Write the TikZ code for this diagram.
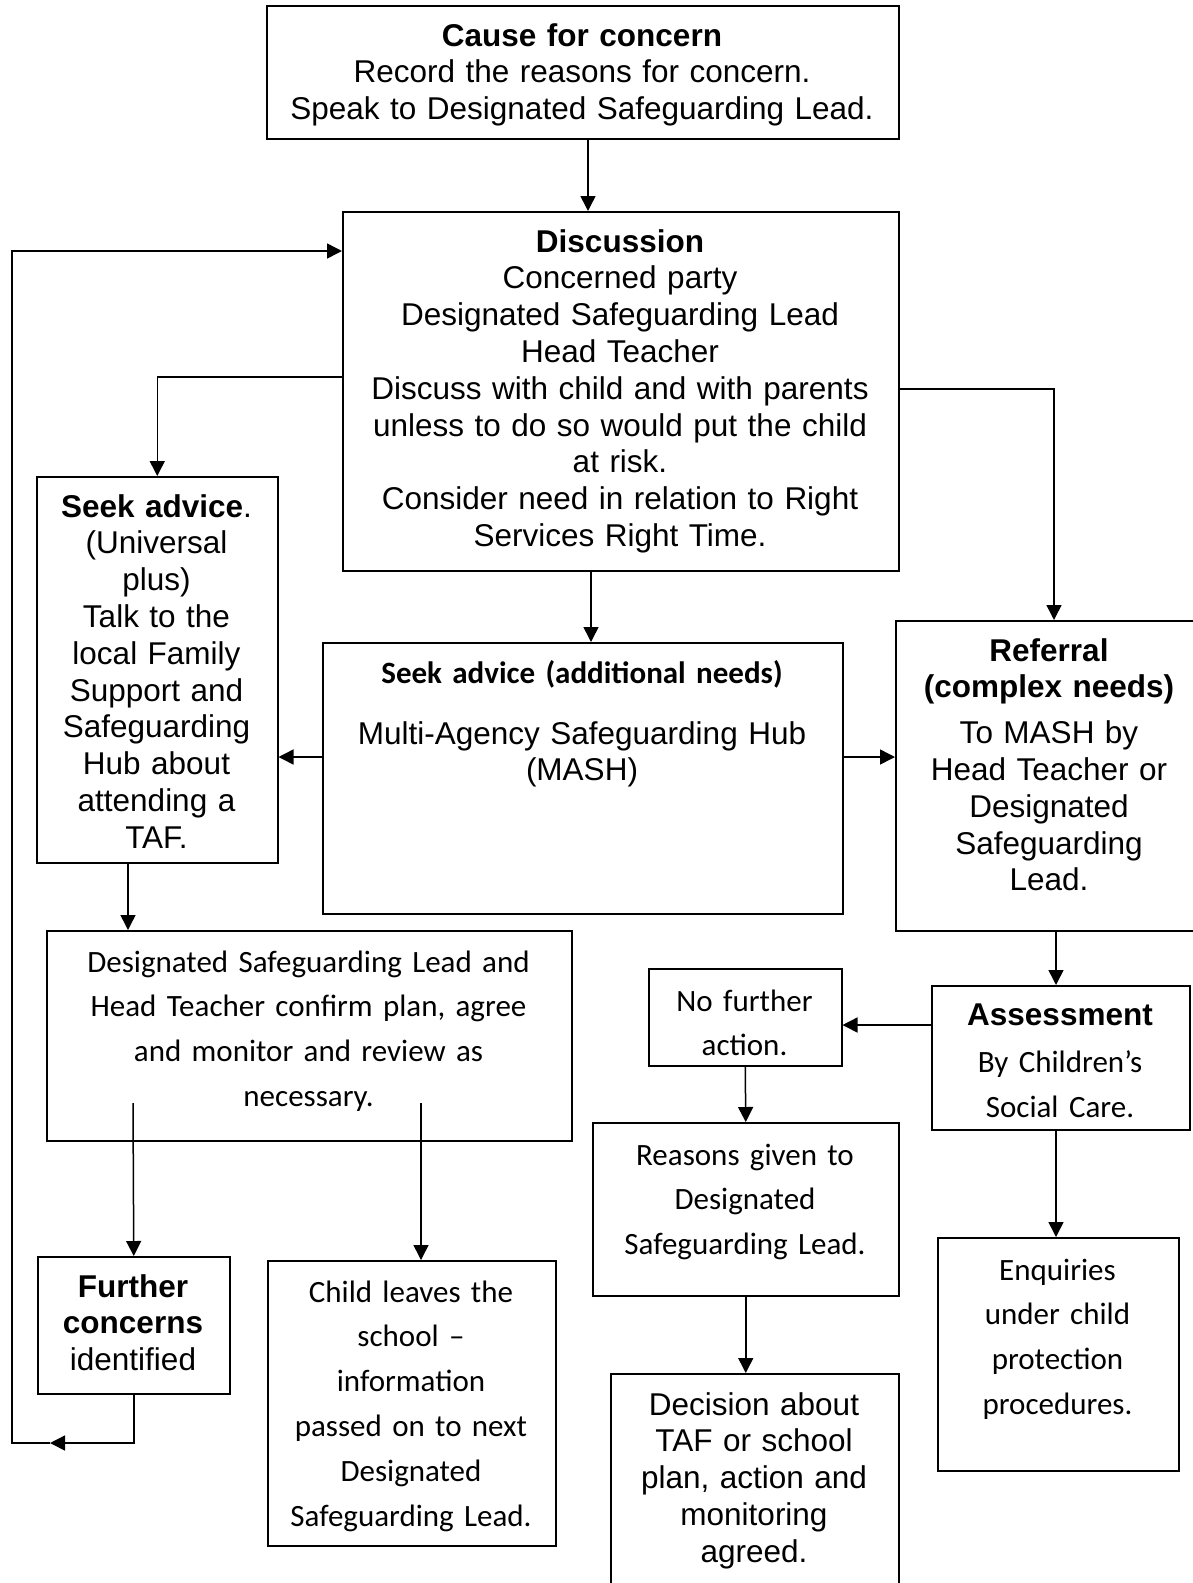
\documentclass[tikz,border=0pt]{standalone}
\usepackage{fontspec}
\setmainfont{Liberation Sans}
\newfontfamily\calib{Carlito}
\usepackage{tikz}
\usetikzlibrary{arrows.meta,positioning,calc}
\newcommand{\calibtext}[1]{{\calib\fontsize{31}{44.8}\selectfont #1}}
\tikzset{
    box/.style={draw, line width=1.5pt, inner sep=0pt, anchor=north west},
    atext/.style={anchor=base, align=center, text width=#1, inner sep=0pt, font=\fontsize{31.5}{36.8}\selectfont},
    ctext/.style={anchor=base, align=center, text width=#1, inner sep=0pt, font=\calib\fontsize{31}{44.8}\selectfont},
    conn/.style={line width=1.5pt},
    arr/.style={conn, -{Triangle[length=15pt,width=15pt]}},
}
\begin{document}
\begin{tikzpicture}[x=1pt, y=-1pt]
    \useasboundingbox (0,0) rectangle (1192,1583);
    % Boxes (top left corner, width, height)
    \foreach \n/\x/\y/\w/\h in {cause/266/5/632/133, disc/342/211/556/359,
        seek/36/476/241/386, mash/322/642/520/271, refer/895/620/308/310,
        dsl/46/930/525/210, nfa/648/968/193/97, ass/931/985/258/144,
        reasons/592/1122/306/173, further/37/1256/192/137, child/267/1260/288/285,
        enq/937/1237/241/233, dec/610/1373/288/220} {
        \node[box, minimum width=\w, minimum height=\h] (\n) at (\x,\y) {};
    }
    % Texts
    \node[atext=620] (causet) at (582,46) {\textbf{Cause for concern}\\Record the reasons for concern.\\Speak to Designated Safeguarding Lead.};
    \node[atext=550] (disct) at (620,252) {\textbf{Discussion}\\Concerned party\\Designated Safeguarding Lead\\Head Teacher\\Discuss with child and with parents\\unless to do so would put the child\\at risk.\\Consider need in relation to Right\\Services Right Time.};
    \node[atext=235] (seekt) at (156.5,517) {\textbf{Seek advice}.\\(Universal\\plus)\\Talk to the\\local Family\\Support and\\Safeguarding\\Hub about\\attending a\\TAF.};
    \node[ctext=510] (masht) at (582,683) {\bfseries Seek advice (additional needs)};
    \node[atext=510] (mashb) at (582,744) {Multi-Agency Safeguarding Hub\\(MASH)};
    \node[atext=300] (refert) at (1049,661) {\textbf{Referral}\\\textbf{(complex needs)}\\[9pt]To MASH by\\Head Teacher or\\Designated\\Safeguarding\\Lead.};
    \node[ctext=520] (dslt) at (308.5,972) {Designated Safeguarding Lead and\\Head Teacher confirm plan, agree\\and monitor and review as\\necessary.};
    \node[ctext=190] (nfat) at (744.5,1011) {No further\\action.};
    \node[atext=255] (asst) at (1060,1025) {\textbf{Assessment}\\[11pt]\calibtext{By Children’s}\\[8.2pt]\calibtext{Social Care.}};
    \node[ctext=300] (reasonst) at (745,1165) {Reasons given to\\Designated\\Safeguarding Lead.};
    \node[atext=190] (furthert) at (133,1297) {\textbf{Further}\\\textbf{concerns}\\identified};
    \node[ctext=285] (childt) at (411,1302) {Child leaves the\\school –\\information\\passed on to next\\Designated\\Safeguarding Lead.};
    \node[atext=285] (dect) at (754,1415) {Decision about\\TAF or school\\plan, action and\\monitoring\\agreed.};
    \node[ctext=240] (enqt) at (1057.5,1280) {Enquiries\\under child\\protection\\procedures.};
    % Connectors
    \coordinate (dslL) at (133,1103);
    \coordinate (dslR) at (421,1103);
    \coordinate (loopdown) at (further.south |- 0,1443);
    \coordinate (looptip) at (50,1443);
    \coordinate (loopleft) at (12,1443);
    \coordinate (loopin) at (disc.west |- 0,251);
    \draw[arr] (cause.south -| 588,0) -- (disc.north -| 588,0);
    \draw[arr] (disc.west |- 0,377) -| (seek.north);
    \draw[arr] (disc.east |- 0,389) -| (refer.north -| 1054,0);
    \draw[arr] (disc.south -| 591,0) -- (mash.north -| 591,0);
    \draw[arr] (mash.west |- 0,757) -- (seek.east |- 0,757);
    \draw[arr] (mash.east |- 0,757) -- (refer.west |- 0,757);
    \draw[arr] (seek.south -| 128,0) -- (dsl.north -| 128,0);
    \draw[arr] (refer.south -| 1056,0) -- (ass.north -| 1056,0);
    \draw[arr] (ass.west |- 0,1025) -- (nfa.east |- 0,1025);
    \draw[arr] (nfa.south) -- (reasons.north);
    \draw[arr] (reasons.south) -- (dec.north -| reasons.south);
    \draw[arr] (ass.south -| 1056,0) -- (enq.north -| 1056,0);
    \draw[arr] (dslL) -- (further.north);
    \draw[arr] (dslR) -- (child.north -| dslR);
    % Loop back to discussion
    \draw[arr] (further.south) -- (loopdown) -- (looptip);
    \draw[arr] (looptip) -- (loopleft) |- (loopin);
\end{tikzpicture}
\end{document}
